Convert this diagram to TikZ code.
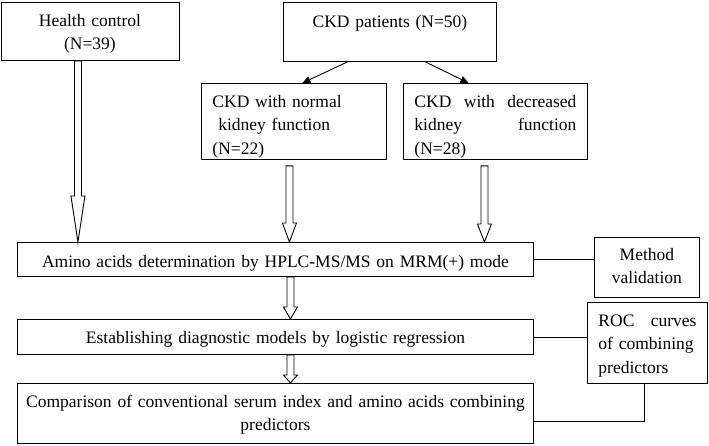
\documentclass[tikz,border=0pt]{standalone}
\usepackage{fontspec}
\setmainfont{Liberation Serif}
\usetikzlibrary{calc,arrows.meta}
\tikzset{
    stage/.style={draw,line width=0.9pt,inner ysep=0pt,inner xsep=0pt,anchor=north west,
        font=\fontsize{17.5pt}{23.5pt}\selectfont},
    hollow/.style={line width=0.9pt,to path={let \p1=(\tikztostart), \p2=(\tikztotarget) in
        (\x1-3.5pt,\y1) -- (\x1-3.5pt,\y2+#1pt) -- (\x1-7pt,\y2+#1pt) -- (\x1,\y2)
        -- (\x1+7pt,\y2+#1pt) -- (\x1+3.5pt,\y2+#1pt) -- (\x1+3.5pt,\y1) -- cycle}},
    link/.style={line width=0.9pt},
    split/.style={line width=0.9pt,-{Triangle[length=8pt,width=7pt]}}
}
\begin{document}
\begin{tikzpicture}[x=1pt,y=-1pt]
    \useasboundingbox (0,0) rectangle (709,445);
    \node[stage,text width=178pt,align=center,text height=24pt,text depth=34pt] (hc) at (0.5,2) {Health control\\(N=39)};
    \node[stage,text width=213pt,align=center,text height=25pt,text depth=34pt] (ckd) at (283,2) {CKD patients (N=50)};
    \node[stage,text width=163pt,inner xsep=11pt,align=left,text height=24pt,text depth=52pt] (norm) at (201,83) {CKD with normal\\\ kidney function\\(N=22)};
    \node[stage,text width=162pt,inner xsep=11pt,align=left,text height=24pt,text depth=52pt] (decr) at (403,83) {CKD\hfill with\hfill decreased\\kidney\hfill function\\(N=28)};
    \node[stage,text width=516pt,align=center,text height=25pt,text depth=9pt] (amino) at (17,242) {Amino acids determination by HPLC-MS/MS on MRM(+) mode};
    \node[stage,text width=105pt,align=center,text height=23pt,text depth=37pt] (method) at (594,237) {Method\\validation};
    \node[stage,text width=516pt,align=center,text height=24pt,text depth=11pt] (est) at (17,319) {Establishing diagnostic models by logistic regression};
    \node[stage,text width=98pt,inner xsep=11pt,align=left,text height=24pt,text depth=57pt] (roc) at (587,302) {ROC\hfill curves\\of combining\\predictors};
    \node[stage,text width=516pt,align=center,text height=24pt,text depth=36pt] (cmp) at (17,383) {Comparison of conventional serum index and amino acids combining\\predictors};
    \draw[split] ([xshift=-42.5pt]ckd.south) -- ([xshift=8.5pt]norm.north);
    \draw[split] ([xshift=35.5pt]ckd.south) -- ([xshift=-27pt]decr.north);
    \draw[hollow=46] ([xshift=-12pt]hc.south) to ([xshift=-12pt]hc.south |- amino.north);
    \draw[hollow=19] ([xshift=-4.5pt,yshift=-6pt]norm.south) to ([xshift=-4.5pt]norm.south |- amino.north);
    \draw[hollow=18] ([xshift=-11pt,yshift=-6pt]decr.south) to ([xshift=-11pt]decr.south |- amino.north);
    \draw[hollow=12] ([xshift=15pt]amino.south) to ([xshift=15pt]amino.south |- est.north);
    \draw[hollow=8] ([xshift=15pt]est.south) to ([xshift=15pt]est.south |- cmp.north);
    \draw[link] (amino.east) -- (amino.east -| method.west);
    \draw[link] (est.east) -- (est.east -| roc.west);
    \draw[link] ([xshift=-3pt]roc.south) |- ([yshift=-8pt]cmp.east);
\end{tikzpicture}
\end{document}
